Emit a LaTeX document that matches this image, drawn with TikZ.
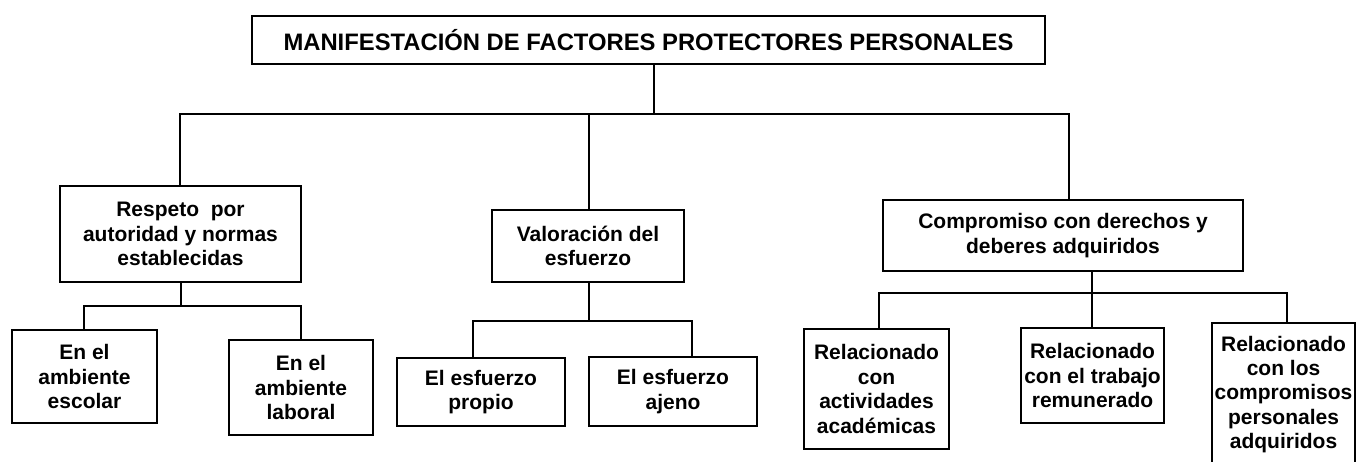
\documentclass[tikz,border=0pt]{standalone}
\usepackage{fontspec}
\setmainfont{Liberation Sans}
\begin{document}
\begin{tikzpicture}[x=1pt,y=-1pt,
  line width=1.6pt,
  box/.style={draw=black, line width=1.6pt, rectangle, align=center, inner sep=0pt,
    font=\bfseries\fontsize{21}{24.4}\selectfont},
  conn/.style={draw=black, line width=1.6pt}]
\useasboundingbox (0,0) rectangle (1356,461);
\clip (0,0) rectangle (1356,461);
\fill[white] (0,0) rectangle (1356,461);

% top
\node[box, minimum width=793pt, minimum height=48pt, font=\bfseries\fontsize{23.8}{27}\selectfont]
  (top) at (648.5,40) {MANIFESTACIÓN DE FACTORES PROTECTORES PERSONALES};

% level 1
\node[box, minimum width=241pt, minimum height=96pt] (b1) at (180.5,234) {Respeto~~por\\autoridad y normas\\establecidas};
\node[box, minimum width=192pt, minimum height=72pt] (b2) at (588,246) {Valoración del\\esfuerzo};
\node[box, minimum width=360pt, minimum height=71pt] (b3) at (1063,235.5) {Compromiso con derechos y\\deberes adquiridos};

% level 2
\node[box, minimum width=145pt, minimum height=93pt] (e1) at (84.5,376.5) {En el\\ambiente\\escolar};
\node[box, minimum width=144pt, minimum height=95pt] (e2) at (301,387.5) {En el\\ambiente\\laboral};
\node[box, minimum width=168pt, minimum height=68pt] (p1) at (481,392) {El esfuerzo\\propio};
\node[box, minimum width=168pt, minimum height=69pt] (p2) at (673,391.5) {El esfuerzo\\ajeno};
\node[box, minimum width=145pt, minimum height=120pt] (r1) at (876.5,389) {Relacionado\\con\\actividades\\académicas};
\node[box, minimum width=143pt, minimum height=95pt] (r2) at (1092.5,375.5) {Relacionado\\con el trabajo\\remunerado};
\node[box, minimum width=143pt, minimum height=143pt] (r3) at (1283.5,394.5) {Relacionado\\con los\\compromisos\\personales\\adquiridos};

% junction coordinates
\coordinate (h0M) at (654,114);
\coordinate (h0L) at (180,114);
\coordinate (h0C) at (589,114);
\coordinate (h0R) at (1069,114);
\coordinate (h1M) at (181,306);
\coordinate (h1L) at (84,306);
\coordinate (h1R) at (301,306);
\coordinate (h2M) at (589,321);
\coordinate (h2L) at (473,321);
\coordinate (h2R) at (692,321);
\coordinate (h3M) at (1092,293);
\coordinate (h3L) at (879,293);
\coordinate (h3R) at (1287,293);

% connectors level 0
\draw[conn] (top.south -| h0M) -- (h0M);
\draw[conn] (b1.north -| h0L) |- (h0R) -- (b3.north -| h0R);
\draw[conn] (h0C) -- (b2.north -| h0C);

% connectors b1
\draw[conn] (b1.south -| h1M) -- (h1M);
\draw[conn] (e1.north -| h1L) |- (h1R) -- (e2.north -| h1R);

% connectors b2
\draw[conn] (b2.south -| h2M) -- (h2M);
\draw[conn] (p1.north -| h2L) |- (h2R) -- (p2.north -| h2R);

% connectors b3
\draw[conn] (b3.south -| h3M) -- (h3M);
\draw[conn] (r1.north -| h3L) |- (h3R) -- (r3.north -| h3R);
\draw[conn] (h3M) -- (r2.north -| h3M);
\end{tikzpicture}
\end{document}
